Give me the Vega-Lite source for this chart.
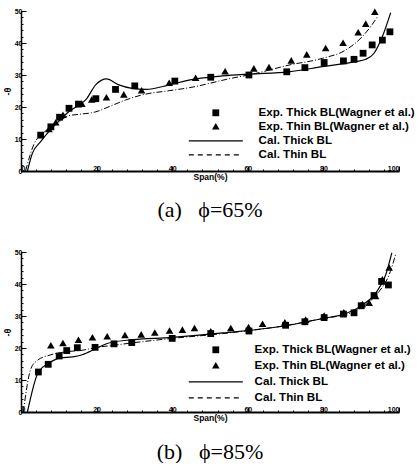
{
  "$schema": "https://vega.github.io/schema/vega-lite/v6.json",
  "padding": {"left": 3, "top": 7, "right": 5, "bottom": 0},
  "spacing": 27,
  "config": {
    "view": {"stroke": null},
    "axis": {"grid": false, "domainColor": "black", "tickColor": "black", "labelColor": "black", "titleColor": "black", "labelFont": "Liberation Sans", "labelFontWeight": "bold", "labelFontSize": 7, "titleFont": "Liberation Sans", "titleFontWeight": "bold"}
  },
  "datasets": {
    "a": [
      {"s": "Exp. Thick BL(Wagner et al.)", "x": 5.2, "y": 11.2}, {"s": "Exp. Thick BL(Wagner et al.)", "x": 7.9, "y": 13.8}, {"s": "Exp. Thick BL(Wagner et al.)", "x": 10.2, "y": 16.8}, {"s": "Exp. Thick BL(Wagner et al.)", "x": 12.7, "y": 19.6}, {"s": "Exp. Thick BL(Wagner et al.)", "x": 15.2, "y": 20.9}, {"s": "Exp. Thick BL(Wagner et al.)", "x": 19.8, "y": 22.6}, {"s": "Exp. Thick BL(Wagner et al.)", "x": 25.0, "y": 25.5}, {"s": "Exp. Thick BL(Wagner et al.)", "x": 30.1, "y": 26.6}, {"s": "Exp. Thick BL(Wagner et al.)", "x": 40.7, "y": 28.1}, {"s": "Exp. Thick BL(Wagner et al.)", "x": 50.2, "y": 29.3}, {"s": "Exp. Thick BL(Wagner et al.)", "x": 60.3, "y": 30.0}, {"s": "Exp. Thick BL(Wagner et al.)", "x": 70.3, "y": 31.0}, {"s": "Exp. Thick BL(Wagner et al.)", "x": 75.1, "y": 32.3}, {"s": "Exp. Thick BL(Wagner et al.)", "x": 80.2, "y": 33.9}, {"s": "Exp. Thick BL(Wagner et al.)", "x": 85.3, "y": 34.4}, {"s": "Exp. Thick BL(Wagner et al.)", "x": 88.1, "y": 34.9}, {"s": "Exp. Thick BL(Wagner et al.)", "x": 90.5, "y": 36.8}, {"s": "Exp. Thick BL(Wagner et al.)", "x": 92.9, "y": 39.4}, {"s": "Exp. Thick BL(Wagner et al.)", "x": 95.6, "y": 40.9}, {"s": "Exp. Thick BL(Wagner et al.)", "x": 97.6, "y": 43.5},
      {"s": "Exp. Thin BL(Wagner et al.)", "x": 7.4, "y": 13.0}, {"s": "Exp. Thin BL(Wagner et al.)", "x": 9.2, "y": 15.1}, {"s": "Exp. Thin BL(Wagner et al.)", "x": 11.1, "y": 17.4}, {"s": "Exp. Thin BL(Wagner et al.)", "x": 16.1, "y": 20.9}, {"s": "Exp. Thin BL(Wagner et al.)", "x": 18.7, "y": 22.2}, {"s": "Exp. Thin BL(Wagner et al.)", "x": 22.6, "y": 22.9}, {"s": "Exp. Thin BL(Wagner et al.)", "x": 27.2, "y": 23.8}, {"s": "Exp. Thin BL(Wagner et al.)", "x": 31.9, "y": 25.1}, {"s": "Exp. Thin BL(Wagner et al.)", "x": 39.2, "y": 27.4}, {"s": "Exp. Thin BL(Wagner et al.)", "x": 46.2, "y": 29.0}, {"s": "Exp. Thin BL(Wagner et al.)", "x": 54.0, "y": 31.0}, {"s": "Exp. Thin BL(Wagner et al.)", "x": 61.6, "y": 31.9}, {"s": "Exp. Thin BL(Wagner et al.)", "x": 65.6, "y": 32.3}, {"s": "Exp. Thin BL(Wagner et al.)", "x": 71.5, "y": 34.4}, {"s": "Exp. Thin BL(Wagner et al.)", "x": 75.6, "y": 36.3}, {"s": "Exp. Thin BL(Wagner et al.)", "x": 80.6, "y": 38.3}, {"s": "Exp. Thin BL(Wagner et al.)", "x": 85.2, "y": 39.9}, {"s": "Exp. Thin BL(Wagner et al.)", "x": 89.2, "y": 43.2}, {"s": "Exp. Thin BL(Wagner et al.)", "x": 91.2, "y": 45.9}, {"s": "Exp. Thin BL(Wagner et al.)", "x": 93.6, "y": 49.6},
      {"s": "Cal. Thick BL", "x": 1.7, "y": 0}, {"s": "Cal. Thick BL", "x": 3.0, "y": 5.5}, {"s": "Cal. Thick BL", "x": 5.2, "y": 9.2}, {"s": "Cal. Thick BL", "x": 7.9, "y": 13.0}, {"s": "Cal. Thick BL", "x": 10.2, "y": 15.8}, {"s": "Cal. Thick BL", "x": 12.7, "y": 18.6}, {"s": "Cal. Thick BL", "x": 15.2, "y": 20.5}, {"s": "Cal. Thick BL", "x": 17.1, "y": 22.2}, {"s": "Cal. Thick BL", "x": 19.8, "y": 27.0}, {"s": "Cal. Thick BL", "x": 22.6, "y": 28.8}, {"s": "Cal. Thick BL", "x": 25.9, "y": 26.9}, {"s": "Cal. Thick BL", "x": 29.4, "y": 25.8}, {"s": "Cal. Thick BL", "x": 33.0, "y": 25.5}, {"s": "Cal. Thick BL", "x": 39.2, "y": 26.9}, {"s": "Cal. Thick BL", "x": 44.4, "y": 28.4}, {"s": "Cal. Thick BL", "x": 53.3, "y": 29.7}, {"s": "Cal. Thick BL", "x": 60.3, "y": 30.3}, {"s": "Cal. Thick BL", "x": 70.9, "y": 31.0}, {"s": "Cal. Thick BL", "x": 79.7, "y": 32.6}, {"s": "Cal. Thick BL", "x": 88.5, "y": 34.2}, {"s": "Cal. Thick BL", "x": 91.2, "y": 34.9}, {"s": "Cal. Thick BL", "x": 93.4, "y": 36.8}, {"s": "Cal. Thick BL", "x": 95.6, "y": 42.0}, {"s": "Cal. Thick BL", "x": 97.8, "y": 49.5},
      {"s": "Cal. Thin BL", "x": 1.2, "y": 0}, {"s": "Cal. Thin BL", "x": 3.4, "y": 8.3}, {"s": "Cal. Thin BL", "x": 6.0, "y": 12.0}, {"s": "Cal. Thin BL", "x": 9.6, "y": 14.9}, {"s": "Cal. Thin BL", "x": 12.7, "y": 17.3}, {"s": "Cal. Thin BL", "x": 15.3, "y": 17.7}, {"s": "Cal. Thin BL", "x": 19.8, "y": 18.5}, {"s": "Cal. Thin BL", "x": 23.3, "y": 20.1}, {"s": "Cal. Thin BL", "x": 27.7, "y": 22.2}, {"s": "Cal. Thin BL", "x": 32.1, "y": 23.8}, {"s": "Cal. Thin BL", "x": 39.2, "y": 25.1}, {"s": "Cal. Thin BL", "x": 44.4, "y": 26.0}, {"s": "Cal. Thin BL", "x": 55.0, "y": 28.8}, {"s": "Cal. Thin BL", "x": 62.1, "y": 30.5}, {"s": "Cal. Thin BL", "x": 70.9, "y": 33.1}, {"s": "Cal. Thin BL", "x": 79.7, "y": 35.2}, {"s": "Cal. Thin BL", "x": 85.9, "y": 37.8}, {"s": "Cal. Thin BL", "x": 90.3, "y": 42.0}, {"s": "Cal. Thin BL", "x": 92.8, "y": 45.6}, {"s": "Cal. Thin BL", "x": 94.3, "y": 48.2}
    ],
    "b": [
      {"s": "Exp. Thick BL(Wagner et al.)", "x": 4.6, "y": 12.5}, {"s": "Exp. Thick BL(Wagner et al.)", "x": 7.2, "y": 14.9}, {"s": "Exp. Thick BL(Wagner et al.)", "x": 10.1, "y": 17.5}, {"s": "Exp. Thick BL(Wagner et al.)", "x": 12.1, "y": 19.2}, {"s": "Exp. Thick BL(Wagner et al.)", "x": 14.9, "y": 20.1}, {"s": "Exp. Thick BL(Wagner et al.)", "x": 19.6, "y": 20.2}, {"s": "Exp. Thick BL(Wagner et al.)", "x": 24.6, "y": 21.3}, {"s": "Exp. Thick BL(Wagner et al.)", "x": 29.3, "y": 21.7}, {"s": "Exp. Thick BL(Wagner et al.)", "x": 40.0, "y": 23.0}, {"s": "Exp. Thick BL(Wagner et al.)", "x": 50.2, "y": 24.5}, {"s": "Exp. Thick BL(Wagner et al.)", "x": 60.3, "y": 25.3}, {"s": "Exp. Thick BL(Wagner et al.)", "x": 70.0, "y": 27.1}, {"s": "Exp. Thick BL(Wagner et al.)", "x": 75.1, "y": 28.2}, {"s": "Exp. Thick BL(Wagner et al.)", "x": 80.2, "y": 29.5}, {"s": "Exp. Thick BL(Wagner et al.)", "x": 85.3, "y": 30.6}, {"s": "Exp. Thick BL(Wagner et al.)", "x": 88.1, "y": 31.0}, {"s": "Exp. Thick BL(Wagner et al.)", "x": 90.0, "y": 33.2}, {"s": "Exp. Thick BL(Wagner et al.)", "x": 93.4, "y": 36.4}, {"s": "Exp. Thick BL(Wagner et al.)", "x": 95.4, "y": 40.8}, {"s": "Exp. Thick BL(Wagner et al.)", "x": 97.2, "y": 39.7},
      {"s": "Exp. Thin BL(Wagner et al.)", "x": 7.9, "y": 20.7}, {"s": "Exp. Thin BL(Wagner et al.)", "x": 11.1, "y": 21.4}, {"s": "Exp. Thin BL(Wagner et al.)", "x": 15.2, "y": 22.4}, {"s": "Exp. Thin BL(Wagner et al.)", "x": 18.9, "y": 23.2}, {"s": "Exp. Thin BL(Wagner et al.)", "x": 22.8, "y": 23.5}, {"s": "Exp. Thin BL(Wagner et al.)", "x": 27.5, "y": 23.9}, {"s": "Exp. Thin BL(Wagner et al.)", "x": 31.8, "y": 24.1}, {"s": "Exp. Thin BL(Wagner et al.)", "x": 35.4, "y": 24.7}, {"s": "Exp. Thin BL(Wagner et al.)", "x": 39.3, "y": 25.3}, {"s": "Exp. Thin BL(Wagner et al.)", "x": 42.7, "y": 25.6}, {"s": "Exp. Thin BL(Wagner et al.)", "x": 45.9, "y": 26.1}, {"s": "Exp. Thin BL(Wagner et al.)", "x": 50.2, "y": 25.1}, {"s": "Exp. Thin BL(Wagner et al.)", "x": 55.5, "y": 26.1}, {"s": "Exp. Thin BL(Wagner et al.)", "x": 60.2, "y": 26.4}, {"s": "Exp. Thin BL(Wagner et al.)", "x": 63.9, "y": 27.4}, {"s": "Exp. Thin BL(Wagner et al.)", "x": 69.8, "y": 27.9}, {"s": "Exp. Thin BL(Wagner et al.)", "x": 75.3, "y": 28.7}, {"s": "Exp. Thin BL(Wagner et al.)", "x": 80.2, "y": 30.0}, {"s": "Exp. Thin BL(Wagner et al.)", "x": 85.4, "y": 31.0}, {"s": "Exp. Thin BL(Wagner et al.)", "x": 90.3, "y": 33.6}, {"s": "Exp. Thin BL(Wagner et al.)", "x": 92.1, "y": 34.0}, {"s": "Exp. Thin BL(Wagner et al.)", "x": 93.8, "y": 36.1}, {"s": "Exp. Thin BL(Wagner et al.)", "x": 95.6, "y": 41.3}, {"s": "Exp. Thin BL(Wagner et al.)", "x": 97.4, "y": 45.0},
      {"s": "Cal. Thick BL", "x": 1.7, "y": 0}, {"s": "Cal. Thick BL", "x": 4.6, "y": 12.5}, {"s": "Cal. Thick BL", "x": 7.4, "y": 15.3}, {"s": "Cal. Thick BL", "x": 10.5, "y": 16.9}, {"s": "Cal. Thick BL", "x": 13.6, "y": 17.2}, {"s": "Cal. Thick BL", "x": 16.2, "y": 17.9}, {"s": "Cal. Thick BL", "x": 19.8, "y": 19.8}, {"s": "Cal. Thick BL", "x": 22.8, "y": 21.4}, {"s": "Cal. Thick BL", "x": 28.6, "y": 22.5}, {"s": "Cal. Thick BL", "x": 40.0, "y": 23.3}, {"s": "Cal. Thick BL", "x": 47.1, "y": 24.0}, {"s": "Cal. Thick BL", "x": 53.3, "y": 24.7}, {"s": "Cal. Thick BL", "x": 70.9, "y": 27.1}, {"s": "Cal. Thick BL", "x": 79.7, "y": 29.2}, {"s": "Cal. Thick BL", "x": 85.9, "y": 30.8}, {"s": "Cal. Thick BL", "x": 90.3, "y": 33.4}, {"s": "Cal. Thick BL", "x": 93.8, "y": 37.1}, {"s": "Cal. Thick BL", "x": 96.5, "y": 42.9}, {"s": "Cal. Thick BL", "x": 98.1, "y": 49.7},
      {"s": "Cal. Thin BL", "x": 0.6, "y": 0}, {"s": "Cal. Thin BL", "x": 2.6, "y": 13.5}, {"s": "Cal. Thin BL", "x": 4.3, "y": 16.1}, {"s": "Cal. Thin BL", "x": 7.4, "y": 17.7}, {"s": "Cal. Thin BL", "x": 11.8, "y": 18.8}, {"s": "Cal. Thin BL", "x": 16.2, "y": 19.3}, {"s": "Cal. Thin BL", "x": 20.6, "y": 20.3}, {"s": "Cal. Thin BL", "x": 24.2, "y": 20.8}, {"s": "Cal. Thin BL", "x": 29.4, "y": 21.6}, {"s": "Cal. Thin BL", "x": 40.0, "y": 23.0}, {"s": "Cal. Thin BL", "x": 53.3, "y": 24.5}, {"s": "Cal. Thin BL", "x": 70.9, "y": 27.2}, {"s": "Cal. Thin BL", "x": 79.7, "y": 29.2}, {"s": "Cal. Thin BL", "x": 86.8, "y": 30.8}, {"s": "Cal. Thin BL", "x": 91.2, "y": 33.6}, {"s": "Cal. Thin BL", "x": 94.7, "y": 37.6}, {"s": "Cal. Thin BL", "x": 97.4, "y": 42.9}, {"s": "Cal. Thin BL", "x": 99.1, "y": 49.2}
    ]
  },
  "vconcat": [
    {
      "width": 378, "height": 160,
      "data": {"name": "a"},
      "title": {"text": "(a)\u00a0\u00a0\u00a0ϕ=65%", "orient": "bottom", "anchor": "middle", "font": "Liberation Serif", "fontSize": 22, "fontWeight": "normal", "color": "black", "offset": 19},
      "encoding": {
        "x": {"field": "x", "type": "quantitative", "scale": {"domain": [0, 100], "nice": false},
              "axis": {"values": [0,4,8,12,16,20,24,28,32,36,40,44,48,52,56,60,64,68,72,76,80,84,88,92,96,100], "labelExpr": "datum.value % 20 == 0 ? datum.label : ''", "tickSize": {"condition": {"test": "datum.value % 20 == 0", "value": -5}, "value": -2}, "domainWidth": 2, "labelPadding": -2, "title": "Span(%)", "titleFontSize": 8.5, "titlePadding": 1}},
        "y": {"field": "y", "type": "quantitative", "scale": {"domain": [0, 50], "nice": false},
              "axis": {"values": [0,2,4,6,8,10,12,14,16,18,20,22,24,26,28,30,32,34,36,38,40,42,44,46,48,50], "labelExpr": "datum.value % 10 == 0 ? datum.label : ''", "tickSize": {"condition": {"test": "datum.value % 10 == 0", "value": -5}, "value": -2}, "domainWidth": 1.5, "labelPadding": 4, "title": "-θ", "titleFontSize": 9, "titlePadding": 2}}
      },
      "layer": [
        {
          "transform": [{"filter": "indexof(datum.s, 'Exp.') == 0"}],
          "mark": {"type": "point", "filled": true, "size": 64, "color": "black", "opacity": 1},
          "encoding": {
            "shape": {"field": "s", "type": "nominal",
              "scale": {"domain": ["Exp. Thick BL(Wagner et al.)", "Exp. Thin BL(Wagner et al.)", "Cal. Thick BL", "Cal. Thin BL"],
                        "range": ["M-0.85,-0.85H0.85V0.85H-0.85Z", "M0,-0.95L0.95,0.7L-0.95,0.7Z", "M-6.75,-0.15H6.75V0.15H-6.75Z", "M-6.75,-0.15H-5.5V0.15H-6.75ZM-4.5,-0.15H-3.25V0.15H-4.5ZM-2.25,-0.15H-1V0.15H-2.25ZM0,-0.15H1.25V0.15H0ZM2.25,-0.15H3.5V0.15H2.25ZM4.5,-0.15H5.75V0.15H4.5Z"]},
              "legend": {"orient": "none", "legendX": 189, "legendY": 96, "title": null, "padding": 0, "symbolSize": 64, "symbolFillColor": "black", "symbolStrokeColor": "black", "symbolStrokeWidth": 0, "labelOffset": 37, "rowPadding": 1, "labelFont": "Liberation Sans", "labelFontWeight": "bold", "labelFontSize": 11.6, "labelColor": "black", "labelLimit": 300,
                "encode": {"symbols": {"update": {"fill": {"value": "black"}, "fillOpacity": {"value": 1}, "strokeWidth": {"value": 0}}}}}}
          }
        },
        {
          "transform": [{"filter": "datum.s == 'Cal. Thick BL'"}],
          "mark": {"type": "line", "color": "black", "strokeWidth": 1.2, "interpolate": "monotone"},
          "encoding": {}
        },
        {
          "transform": [{"filter": "datum.s == 'Cal. Thin BL'"}],
          "mark": {"type": "line", "color": "black", "strokeWidth": 1, "strokeDash": [6, 2, 1, 2], "interpolate": "monotone"},
          "encoding": {}
        }
      ]
    },
    {
      "width": 378, "height": 160,
      "data": {"name": "b"},
      "title": {"text": "(b)\u00a0\u00a0\u00a0ϕ=85%", "orient": "bottom", "anchor": "middle", "font": "Liberation Serif", "fontSize": 22, "fontWeight": "normal", "color": "black", "offset": 20},
      "encoding": {
        "x": {"field": "x", "type": "quantitative", "scale": {"domain": [0, 100], "nice": false},
              "axis": {"values": [0,4,8,12,16,20,24,28,32,36,40,44,48,52,56,60,64,68,72,76,80,84,88,92,96,100], "labelExpr": "datum.value % 20 == 0 ? datum.label : ''", "tickSize": {"condition": {"test": "datum.value % 20 == 0", "value": -5}, "value": -2}, "domainWidth": 2, "labelPadding": -2, "title": "Span(%)", "titleFontSize": 8.5, "titlePadding": 1}},
        "y": {"field": "y", "type": "quantitative", "scale": {"domain": [0, 50], "nice": false},
              "axis": {"values": [0,2,4,6,8,10,12,14,16,18,20,22,24,26,28,30,32,34,36,38,40,42,44,46,48,50], "labelExpr": "datum.value % 10 == 0 ? datum.label : ''", "tickSize": {"condition": {"test": "datum.value % 10 == 0", "value": -5}, "value": -2}, "domainWidth": 1.5, "labelPadding": 4, "title": "-θ", "titleFontSize": 9, "titlePadding": 2}}
      },
      "layer": [
        {
          "transform": [{"filter": "indexof(datum.s, 'Exp.') == 0"}],
          "mark": {"type": "point", "filled": true, "size": 64, "color": "black", "opacity": 1},
          "encoding": {
            "shape": {"field": "s", "type": "nominal",
              "scale": {"domain": ["Exp. Thick BL(Wagner et al.)", "Exp. Thin BL(Wagner et al.)", "Cal. Thick BL", "Cal. Thin BL"],
                        "range": ["M-0.85,-0.85H0.85V0.85H-0.85Z", "M0,-0.95L0.95,0.7L-0.95,0.7Z", "M-6.75,-0.15H6.75V0.15H-6.75Z", "M-6.75,-0.15H-5.5V0.15H-6.75ZM-4.5,-0.15H-3.25V0.15H-4.5ZM-2.25,-0.15H-1V0.15H-2.25ZM0,-0.15H1.25V0.15H0ZM2.25,-0.15H3.5V0.15H2.25ZM4.5,-0.15H5.75V0.15H4.5Z"]},
              "legend": {"orient": "none", "legendX": 189, "legendY": 92, "title": null, "padding": 0, "symbolSize": 64, "symbolFillColor": "black", "symbolStrokeColor": "black", "symbolStrokeWidth": 0, "labelOffset": 33, "rowPadding": 3, "labelFont": "Liberation Sans", "labelFontWeight": "bold", "labelFontSize": 11.6, "labelColor": "black", "labelLimit": 300,
                "encode": {"symbols": {"update": {"fill": {"value": "black"}, "fillOpacity": {"value": 1}, "strokeWidth": {"value": 0}}}}}}
          }
        },
        {
          "transform": [{"filter": "datum.s == 'Cal. Thick BL'"}],
          "mark": {"type": "line", "color": "black", "strokeWidth": 1.2, "interpolate": "monotone"},
          "encoding": {}
        },
        {
          "transform": [{"filter": "datum.s == 'Cal. Thin BL'"}],
          "mark": {"type": "line", "color": "black", "strokeWidth": 1, "strokeDash": [6, 2, 1, 2], "interpolate": "monotone"},
          "encoding": {}
        }
      ]
    }
  ],
  "resolve": {"scale": {"shape": "independent"}, "legend": {"shape": "independent"}}
}
